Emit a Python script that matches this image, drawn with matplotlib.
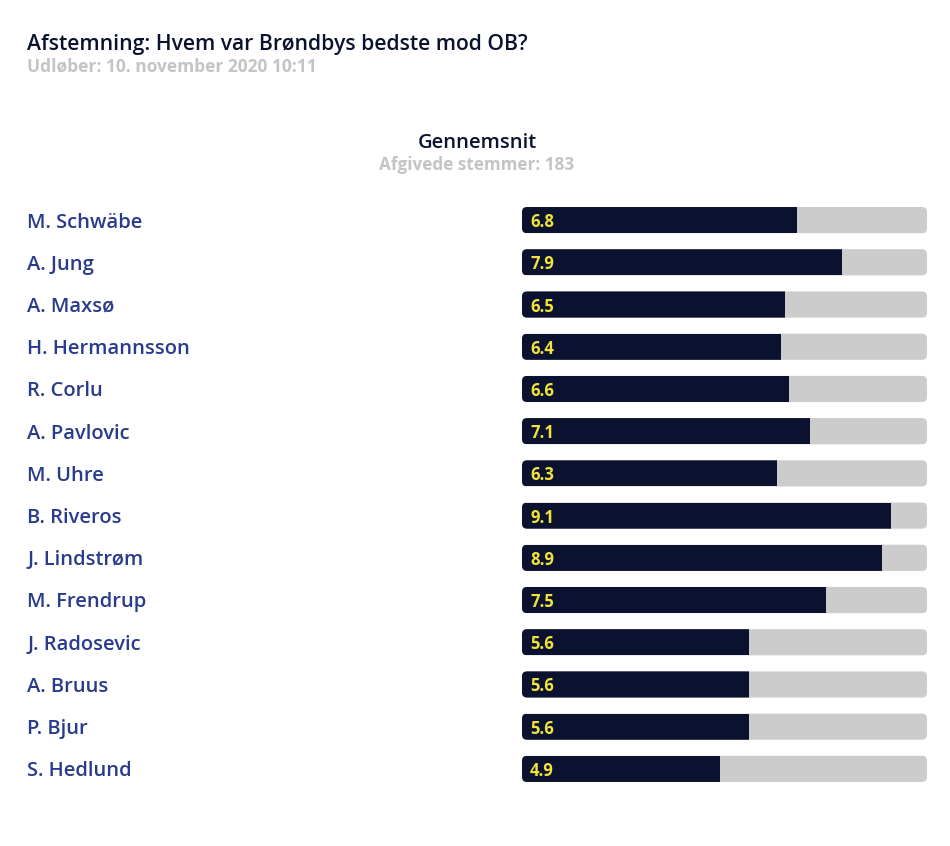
import matplotlib.pyplot as plt
from matplotlib.patches import FancyBboxPatch

# poll data
players = ["M. Schwäbe", "A. Jung", "A. Maxsø", "H. Hermannsson", "R. Corlu",
           "A. Pavlovic", "M. Uhre", "B. Riveros", "J. Lindstrøm", "M. Frendrup",
           "J. Radosevic", "A. Bruus", "P. Bjur", "S. Hedlund"]
ratings = [6.8, 7.9, 6.5, 6.4, 6.6, 7.1, 6.3, 9.1, 8.9, 7.5, 5.6, 5.6, 5.6, 4.9]
max_rating = 10
votes = 183

dark = "#0b1230"
grey_bar = "#cccccc"
name_col = "#2a3b8c"
label_col = "#f2e33c"

plt.rcParams["font.family"] = ["Open Sans", "DejaVu Sans"]
fig = plt.figure(figsize=(9.5, 8.46), dpi=100)

fig.text(27 / 950, 1 - 42 / 846, "Afstemning: Hvem var Brøndbys bedste mod OB?",
         fontsize=15.2, color=dark, fontweight="semibold", va="center_baseline")
fig.text(27 / 950, 1 - 64 / 846, "Udløber: 10. november 2020 10:11",
         fontsize=12.5, color="#c4c4c4", fontweight="bold", va="center_baseline")
fig.text(477 / 950, 1 - 140 / 846, "Gennemsnit",
         fontsize=14.5, color=dark, fontweight="semibold", ha="center", va="center_baseline")
fig.text(477 / 950, 1 - 163 / 846, "Afgivede stemmer: {}".format(votes),
         fontsize=12.3, color="#c4c4c4", fontweight="bold", ha="center", va="center_baseline")

ax = fig.add_axes([522 / 950, 1 - 790 / 846, 405 / 950, 591 / 846])
ax.set_xlim(0, max_rating)
ax.set_ylim(len(players) - 0.5, -0.5)
ax.axis("off")

h = 0.62
# px -> data conversion for rounded corners
px_x = max_rating / 405
px_y = len(players) / 591
for i, (name, r) in enumerate(zip(players, ratings)):
    bg = FancyBboxPatch((0, i - h / 2), max_rating, h,
                        boxstyle="round,pad=0,rounding_size={}".format(5 * px_x),
                        mutation_aspect=px_y / px_x, fc=grey_bar, ec="none")
    ax.add_patch(bg)
    bars = ax.barh(i, r, height=h, color=dark)
    bars[0].set_clip_path(bg)
    ax.text(0.2, i, "{:.1f}".format(r), color=label_col, fontsize=12,
            fontweight="bold", va="center_baseline", ha="left")
    fig.text(27 / 950, 1 - (220 + i * 42.2) / 846, name, color=name_col,
             fontsize=14.5, fontweight="semibold", va="center_baseline")

plt.savefig("out.png", dpi=100)
